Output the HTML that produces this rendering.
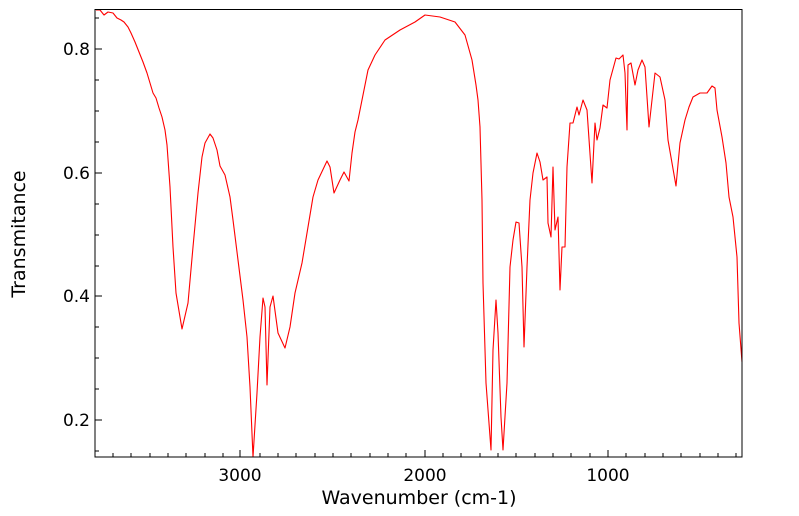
<!DOCTYPE html>
<html><head><meta charset="utf-8"><style>
html,body{margin:0;padding:0;background:#fff;}
svg{display:block;font-family:"DejaVu Sans","Liberation Sans",sans-serif;}
</style></head><body>
<svg width="799" height="516" viewBox="0 0 799 516">
<rect x="0" y="0" width="799" height="516" fill="#fff"/>
<g stroke="#000" stroke-width="1">
<line x1="240" y1="457" x2="240" y2="450"/>
<line x1="425" y1="457" x2="425" y2="450"/>
<line x1="608" y1="457" x2="608" y2="450"/>
<line x1="113" y1="457" x2="113" y2="453"/><line x1="131" y1="457" x2="131" y2="453"/><line x1="150" y1="457" x2="150" y2="453"/><line x1="168" y1="457" x2="168" y2="453"/><line x1="186" y1="457" x2="186" y2="453"/><line x1="205" y1="457" x2="205" y2="453"/><line x1="223" y1="457" x2="223" y2="453"/>
<line x1="260" y1="457" x2="260" y2="453"/><line x1="278" y1="457" x2="278" y2="453"/><line x1="296" y1="457" x2="296" y2="453"/><line x1="315" y1="457" x2="315" y2="453"/><line x1="333" y1="457" x2="333" y2="453"/><line x1="351" y1="457" x2="351" y2="453"/><line x1="370" y1="457" x2="370" y2="453"/><line x1="388" y1="457" x2="388" y2="453"/><line x1="406" y1="457" x2="406" y2="453"/>
<line x1="443" y1="457" x2="443" y2="453"/><line x1="461" y1="457" x2="461" y2="453"/><line x1="480" y1="457" x2="480" y2="453"/><line x1="498" y1="457" x2="498" y2="453"/><line x1="516" y1="457" x2="516" y2="453"/><line x1="535" y1="457" x2="535" y2="453"/><line x1="553" y1="457" x2="553" y2="453"/><line x1="571" y1="457" x2="571" y2="453"/><line x1="590" y1="457" x2="590" y2="453"/>
<line x1="626" y1="457" x2="626" y2="453"/><line x1="645" y1="457" x2="645" y2="453"/><line x1="663" y1="457" x2="663" y2="453"/><line x1="681" y1="457" x2="681" y2="453"/><line x1="700" y1="457" x2="700" y2="453"/><line x1="718" y1="457" x2="718" y2="453"/><line x1="736" y1="457" x2="736" y2="453"/>
<line x1="95" y1="49" x2="102" y2="49"/>
<line x1="95" y1="173" x2="102" y2="173"/>
<line x1="95" y1="296" x2="102" y2="296"/>
<line x1="95" y1="420" x2="102" y2="420"/>
<line x1="95" y1="80" x2="99" y2="80"/><line x1="95" y1="111" x2="99" y2="111"/><line x1="95" y1="142" x2="99" y2="142"/>
<line x1="95" y1="204" x2="99" y2="204"/><line x1="95" y1="235" x2="99" y2="235"/><line x1="95" y1="266" x2="99" y2="266"/>
<line x1="95" y1="327" x2="99" y2="327"/><line x1="95" y1="358" x2="99" y2="358"/><line x1="95" y1="389" x2="99" y2="389"/>
<line x1="95" y1="451" x2="99" y2="451"/><line x1="95" y1="18" x2="99" y2="18"/>
</g>
<polyline fill="none" stroke="#ff0000" stroke-width="1.1" stroke-linejoin="round" points="
96,10 100,10 104,15 108,12 113,13 117,18 121,20 124,22 128,27 131,33 135,42 139,52 143,62 147,73 150,83 153,93 156,98 159,108 162,117 165,130 167,145 170,187 173,247 176,293 182,329 188,303 193,247 198,193 202,157 205,143 210,134 213,138 217,150 220,166 225,175 230,197 233,220 238,260 243,300 247,337 250,387 253,457 257,393 260,337 263,298 265,307 267,385 270,307 273,296 278,333 285,348 290,327 295,293 302,263 307,233 313,197 318,180 327,161 330,167 334,193 340,180 344,172 349,181 352,153 355,132 358,120 362,100 368,70 375,55 385,40 400,30 415,22 425,15 440,17 455,22 465,35 472,60 476,85 478,100 480,127 482,200 483,283 486,383 491,450 493,350 496,300 498,333 501,417 503,450 507,383 510,267 513,240 516,222 519,223 522,267 524,347 527,267 530,200 533,173 537,153 540,162 543,180 547,177 548,223 551,237 553,167 555,230 558,217 560,290 562,247 565,247 567,167 570,123 573,123 577,107 579,115 583,100 587,110 592,183 595,123 597,140 600,128 603,105 607,108 610,80 616,58 619,59 623,55 625,73 627,130 628,65 631,63 635,85 638,70 642,60 645,67 649,127 652,100 655,73 660,77 665,100 668,140 672,163 676,186 680,143 685,120 689,107 693,97 700,93 707,93 712,86 715,88 717,110 722,137 726,163 729,197 733,217 737,257 739,323 742,362"/>
<rect x="95" y="9.5" width="647" height="447.5" fill="none" stroke="#000" stroke-width="1"/>
<g font-size="17" fill="#000">
<text x="240" y="481" text-anchor="middle">3000</text>
<text x="425" y="481" text-anchor="middle">2000</text>
<text x="608" y="481" text-anchor="middle">1000</text>
<text x="90" y="55" text-anchor="end">0.8</text>
<text x="90" y="179" text-anchor="end">0.6</text>
<text x="90" y="302" text-anchor="end">0.4</text>
<text x="90" y="426" text-anchor="end">0.2</text>
</g>
<g font-size="19" fill="#000">
<text x="419" y="504" text-anchor="middle">Wavenumber (cm-1)</text>
<text transform="translate(25,234) rotate(-90)" text-anchor="middle">Transmitance</text>
</g>
</svg>
</body></html>
